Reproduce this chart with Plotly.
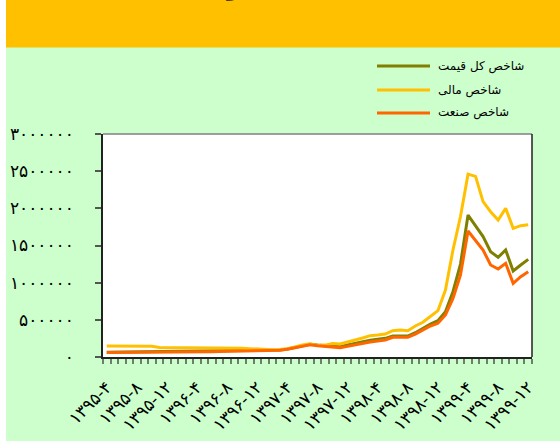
import plotly.graph_objects as go

FA = str.maketrans("0123456789", "۰۱۲۳۴۵۶۷۸۹")

months_latin = [
    "1395-4", "1395-5", "1395-6", "1395-7", "1395-8", "1395-9", "1395-10", "1395-11", "1395-12",
    "1396-1", "1396-2", "1396-3", "1396-4", "1396-5", "1396-6", "1396-7", "1396-8", "1396-9",
    "1396-10", "1396-11", "1396-12",
    "1397-1", "1397-2", "1397-3", "1397-4", "1397-5", "1397-6", "1397-7", "1397-8", "1397-9",
    "1397-10", "1397-11", "1397-12",
    "1398-1", "1398-2", "1398-3", "1398-4", "1398-5", "1398-6", "1398-7", "1398-8", "1398-9",
    "1398-10", "1398-11", "1398-12",
    "1399-1", "1399-2", "1399-3", "1399-4", "1399-5", "1399-6", "1399-7", "1399-8", "1399-9",
    "1399-10", "1399-11", "1399-12",
]
categories = [m.translate(FA) for m in months_latin]
label_months = ["1395-4", "1395-8", "1395-12", "1396-4", "1396-8", "1396-12", "1397-4", "1397-8",
                "1397-12", "1398-4", "1398-8", "1398-12", "1399-4", "1399-8", "1399-12"]

# شاخص کل قیمت
total_index = [
    65000, 66000, 66000, 67000, 68000, 68000, 69000, 70000, 71000,
    72000, 72000, 73000, 74000, 75000, 77000, 78000, 80000, 81000, 82000, 84000, 86000,
    88000, 90000, 95000, 108000, 130000, 155000, 172000, 160000, 150000, 150000, 139000, 161000,
    184000, 206000, 224000, 238000, 251000, 282000, 287000, 282000, 327000, 386000, 444000,
    489000, 610000, 879000, 1250000, 1910000, 1770000, 1620000, 1417000, 1341000, 1440000,
    1157000, 1238000, 1314000,
]
# شاخص مالی
financial_index = [
    148000, 148000, 147000, 147000, 146000, 146000, 145000, 127000, 126000,
    127000, 127000, 126000, 125000, 124000, 125000, 125000, 127000, 124000, 118000, 112000, 106000,
    100000, 98000, 102000, 112000, 135000, 162000, 178000, 155000, 160000, 180000, 175000, 197000,
    229000, 256000, 287000, 296000, 309000, 354000, 363000, 354000, 417000, 467000, 542000,
    623000, 901000, 1440000, 1890000, 2460000, 2430000, 2090000, 1955000, 1843000, 2000000,
    1731000, 1767000, 1780000,
]
# شاخص صنعت
industry_index = [
    62000, 62000, 63000, 63000, 64000, 64000, 65000, 65000, 66000,
    67000, 67000, 68000, 69000, 70000, 72000, 73000, 75000, 77000, 79000, 80000, 82000,
    84000, 85000, 92000, 104000, 126000, 150000, 166000, 152000, 144000, 138000, 126000, 143000,
    166000, 184000, 202000, 215000, 229000, 265000, 265000, 265000, 309000, 363000, 417000,
    453000, 565000, 789000, 1103000, 1695000, 1570000, 1440000, 1238000, 1184000, 1260000,
    991000, 1080000, 1148000,
]

series_names = ["شاخص کل قیمت", "شاخص مالی", "شاخص صنعت"]
series_colors = ["#808000", "#FFC000", "#FF6600"]
series_values = [total_index, financial_index, industry_index]

y_tickvals = [0, 500000, 1000000, 1500000, 2000000, 2500000, 3000000]
y_ticktext = [str(v).translate(FA) for v in y_tickvals]

title_text = "روند شاخص کل قیمت، شاخص مالی و شاخص صنعت"

FONT = "DejaVu Sans"

fig = go.Figure()
for name, color, vals in zip(series_names, series_colors, series_values):
    fig.add_trace(go.Scatter(x=categories, y=vals, mode="lines", name=name,
                             line=dict(color=color, width=3), showlegend=False))

# geometry helpers (plot area in pixels)
L, R, T, B = 103, 28, 134, 84
W, H = 560, 441
pw, ph = W - L - R, H - T - B
def px(x):
    return (x - L) / pw
def py(y):
    return (H - B - y) / ph

shapes = [
    dict(type="rect", xref="paper", yref="paper", x0=px(-5), x1=px(6), y0=py(-5), y1=py(446),
         fillcolor="white", line_width=0, layer="below"),
    dict(type="rect", xref="paper", yref="paper", x0=px(6), x1=px(570), y0=py(47.5), y1=py(-5),
         fillcolor="#FFC000", line_width=0, layer="below"),
    dict(type="line", xref="paper", yref="paper", x0=0, x1=1, y0=1, y1=1,
         line=dict(color="#808080", width=1.5)),
    dict(type="line", xref="paper", yref="paper", x0=1, x1=1, y0=0, y1=1,
         line=dict(color="#222222", width=1.5)),
]
annotations = [
    dict(xref="paper", yref="paper", x=px(355), y=py(3), xanchor="center", yanchor="bottom",
         text="<b>" + title_text + "</b>", showarrow=False,
         font=dict(family=FONT, size=22, color="black")),
]
legend_y = [66, 90, 113]
for name, color, ly in zip(series_names, series_colors, legend_y):
    shapes.append(dict(type="line", xref="paper", yref="paper", x0=px(377), x1=px(430),
                       y0=py(ly), y1=py(ly), line=dict(color=color, width=3)))
    annotations.append(dict(xref="paper", yref="paper", x=px(436), y=py(ly), xanchor="left",
                            yanchor="middle", text=name, showarrow=False,
                            font=dict(family=FONT, size=12, color="black")))

fig.update_layout(
    width=W, height=H,
    margin=dict(l=L, r=R, t=T, b=B),
    paper_bgcolor="#CCFFCC",
    plot_bgcolor="white",
    font=dict(family=FONT, size=14, color="black"),
    shapes=shapes,
    annotations=annotations,
    showlegend=False,
)
fig.update_xaxes(
    type="category",
    categoryorder="array", categoryarray=categories,
    tickmode="array", tickvals=categories,
    ticktext=[c if m in label_months else "" for c, m in zip(categories, months_latin)],
    tickson="boundaries",
    ticks="outside", ticklen=5, tickwidth=1.5, tickcolor="#6E7F6E",
    tickangle=-45,
    showline=True, linecolor="#222222", linewidth=1.5,
    showgrid=False, zeroline=False,
    range=[-0.5, 56.5],
    automargin=False,
    ticklabelstandoff=12,
    tickfont=dict(family=FONT, size=17),
)
fig.update_yaxes(
    range=[0, 3000000],
    tickmode="array", tickvals=y_tickvals, ticktext=y_ticktext,
    ticks="outside", ticklen=6, tickwidth=1.5, tickcolor="#555555",
    showline=True, linecolor="#222222", linewidth=1.5,
    showgrid=False, zeroline=False,
    automargin=False,
    ticklabelstandoff=18,
    tickfont=dict(family=FONT, size=17),
)

fig.write_html("out.html", config={"displayModeBar": False},
               post_script="document.body.style.margin='0px';")
